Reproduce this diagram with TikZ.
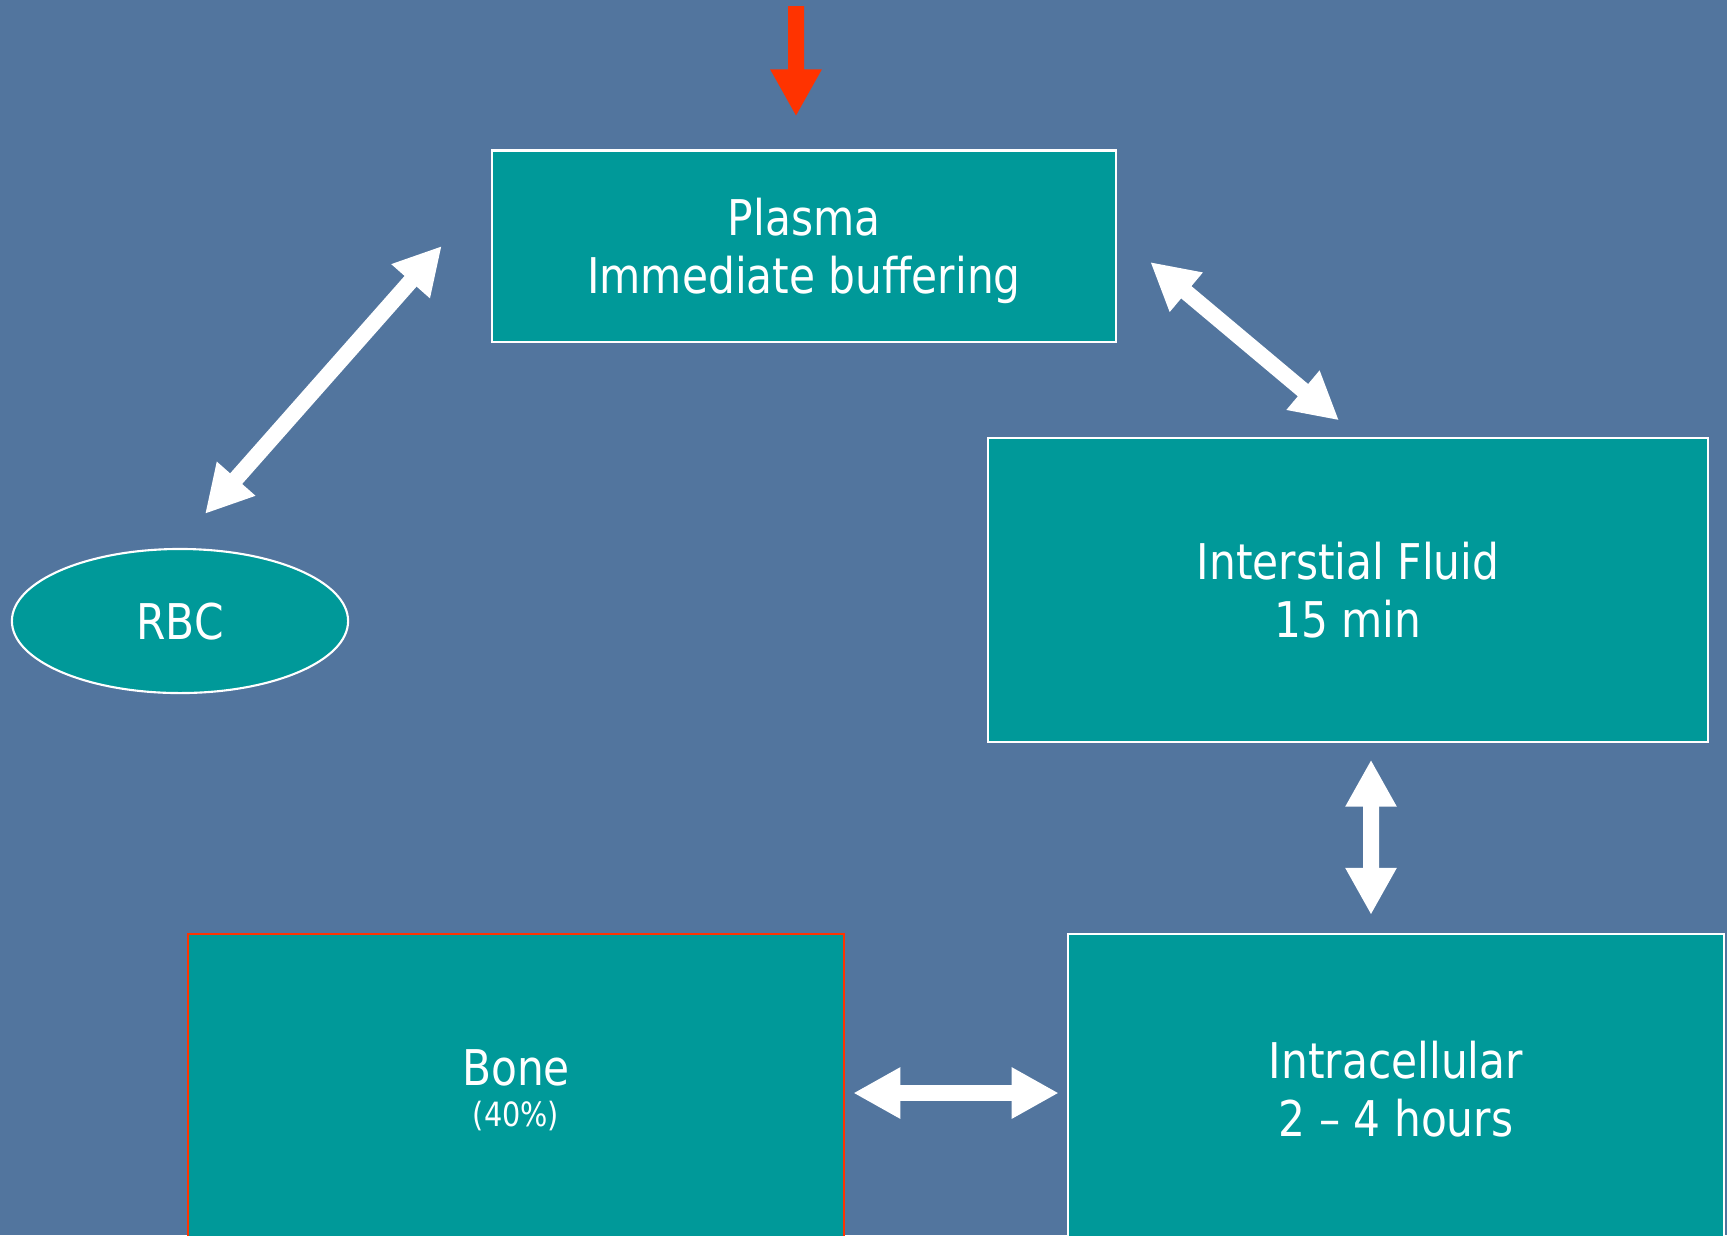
\documentclass[tikz,border=0pt]{standalone}
\usepackage{fontspec}
\setmainfont{DejaVu Sans}[FakeStretch=0.86]
\usetikzlibrary{arrows.meta,shapes.geometric}
\definecolor{slide}{RGB}{82,117,158}
\definecolor{boxteal}{RGB}{0,153,153}
\definecolor{hot}{RGB}{255,51,0}
\begin{document}
\begin{tikzpicture}[x=0.01cm,y=-0.01cm,
  box/.style={draw=white,line width=0.6pt,fill=boxteal,text=white,align=center,inner sep=0pt,font=\fontsize{14}{16.5}\selectfont},
  link/.style={white,line width=0.16cm,{Triangle[length=0.47cm,width=0.48cm]}-{Triangle[length=0.47cm,width=0.48cm]}}]
\useasboundingbox (0,0) rectangle (1727,1235);
\clip (0,0) rectangle (1727,1235);
\fill [slide] (0,0) rectangle (1727,1235);
\node [box,text depth=0pt,minimum width=6.24cm,minimum height=1.91cm] (plasma) at (804,246) {Plasma\\Immediate buffering};
\node [box,minimum width=7.2cm,minimum height=3.03cm] (inter) at (1348,590) {Interstial Fluid\\15 min};
\node [box,minimum width=6.56cm,minimum height=3.1cm] (intra) at (1396,1089) {Intracellular\\2 – 4 hours};
\node [box,draw=hot,minimum width=6.56cm,minimum height=3.12cm] (bone) at (516,1090) {Bone\\[-4.7pt]\fontsize{9.5}{11}\selectfont (40\%)};
\node [box,ellipse,text depth=0pt,minimum width=3.36cm,minimum height=1.44cm] (rbc) at (180,621) {RBC};
\coordinate (drop) at (796,6);
\draw [hot,line width=0.16cm,-{Triangle[length=0.47cm,width=0.48cm]}] (drop) -- ([xshift=-0.08cm,yshift=0.33cm]plasma.north);
\draw [link] ([xshift=0.25cm,yshift=0.34cm]rbc.north) -- ([xshift=-0.49cm]plasma.west);
\draw [link] ([xshift=0.33cm,yshift=-0.16cm]plasma.east) -- ([xshift=-0.09cm,yshift=0.17cm]inter.north);
\draw [link] ([xshift=0.23cm,yshift=-0.17cm]inter.south) -- ([xshift=-0.25cm,yshift=0.18cm]intra.north);
\draw [link] ([xshift=0.08cm,yshift=-0.03cm]bone.east) -- ([xshift=-0.08cm,yshift=-0.04cm]intra.west);
\end{tikzpicture}
\end{document}
